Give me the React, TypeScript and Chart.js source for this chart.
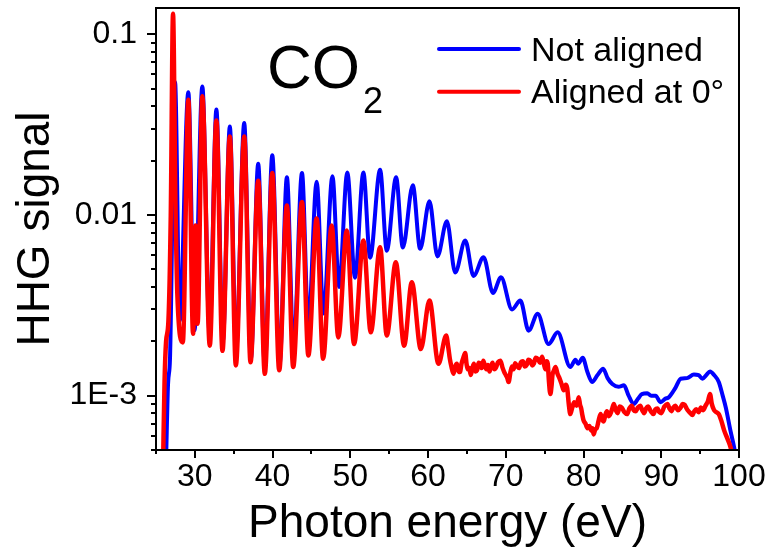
import React, { useEffect, useRef } from 'react';
import { Chart, registerables } from 'chart.js';

Chart.register(...registerables);

// ---------- data ----------
const blueEnergy = [
  26.3, 26.55, 26.8, 27.45, 28.05, 29.16, 29.95, 30.96, 31.9, 32.77,
  33.6, 34.5, 35.3, 36.35, 37.2, 38.15, 39.0, 39.96, 40.9, 41.84,
  42.7, 43.78, 44.6, 45.67, 46.55, 47.7, 48.55, 49.61, 50.6, 51.68,
  52.54, 53.83, 54.69, 55.89, 56.75, 58.04, 58.98, 60.18, 61.21, 62.42,
  63.49, 64.78, 65.85, 67.14, 68.35, 69.38, 70.8, 71.87, 72.94, 74.1,
  75.5, 76.67, 78.3, 78.96, 79.3, 79.9, 80.5, 81.1, 81.8, 82.53,
  83.1, 83.7, 84.5, 85.2, 85.8, 86.47, 87.0, 87.5, 88.2, 88.7,
  89.27, 89.9, 90.5, 90.98, 91.8, 92.5, 93.3, 94.2, 94.8, 95.3,
  95.8, 96.27, 96.8, 97.4, 97.9, 98.3, 98.9, 99.4, 99.6,
];
const blueSignal = [
  4.5e-4, 1.16e-3, 1.6e-3, 0.0545, 2.6e-3, 0.0479, 2.3e-3, 0.0515, 2.2e-3, 0.0384,
  2.0e-3, 0.0309, 1.75e-3, 0.0323, 1.6e-3, 0.0192, 1.45e-3, 0.0214, 1.5e-3, 0.0162,
  1.8e-3, 0.0171, 2.5e-3, 0.0153, 2.85e-3, 0.0164, 4.0e-3, 0.0172, 4.5e-3, 0.0172,
  5.8e-3, 0.0178, 6.35e-3, 0.0162, 6.6e-3, 0.0146, 6.5e-3, 0.0119, 5.9e-3, 9.25e-3,
  4.8e-3, 7.23e-3, 4.6e-3, 5.84e-3, 3.7e-3, 4.52e-3, 3.0e-3, 3.36e-3, 2.29e-3, 2.84e-3,
  1.93e-3, 2.24e-3, 1.44e-3, 1.58e-3, 1.5e-3, 1.62e-3, 1.35e-3, 1.19e-3, 1.3e-3, 1.41e-3,
  1.25e-3, 1.16e-3, 1.12e-3, 1.14e-3, 1.0e-3, 9.0e-4, 9.6e-4, 1.02e-3, 1.03e-3, 1.0e-3,
  1.0e-3, 9.2e-4, 9.6e-4, 9.8e-4, 1.1e-3, 1.24e-3, 1.25e-3, 1.31e-3, 1.3e-3, 1.24e-3,
  1.3e-3, 1.36e-3, 1.3e-3, 1.19e-3, 1.0e-3, 8.6e-4, 6.4e-4, 5.1e-4, 4.5e-4,
];

const redEnergy = [
  25.9, 26.1, 26.3, 26.6, 26.9, 27.19, 27.5, 27.75, 28.45, 29.16,
  29.77, 30.08, 30.35, 30.96, 31.92, 32.77, 33.55, 34.5, 35.27, 36.35,
  37.16, 38.15, 39.0, 39.96, 40.85, 41.84, 42.65, 43.78, 44.6, 45.67,
  46.5, 47.6, 48.45, 49.54, 50.48, 51.68, 52.63, 53.83, 54.69, 55.85,
  56.92, 57.91, 59.07, 60.18, 61.34, 62.33, 62.6, 62.8, 63.0, 63.27,
  63.5, 63.7, 63.9, 64.1, 64.3, 64.5, 64.78, 64.95, 65.1, 65.3,
  65.5, 65.7, 65.9, 66.1, 66.3, 66.5, 66.7, 66.9, 67.1, 67.3,
  67.5, 67.7, 67.9, 68.1, 68.3, 68.5, 68.7, 69.0, 69.3, 69.6,
  69.8, 70.0, 70.2, 70.36, 70.6, 70.8, 71.0, 71.2, 71.45, 71.7,
  71.95, 72.2, 72.45, 72.7, 72.9, 73.15, 73.4, 73.6, 73.85, 74.1,
  74.4, 74.67, 74.9, 75.1, 75.25, 75.4, 75.55, 75.73, 75.9, 76.0,
  76.2, 76.4, 76.65, 76.9, 77.2, 77.45, 77.7, 77.9, 78.1, 78.3,
  78.55, 78.8, 79.1, 79.38, 79.55, 79.7, 79.85, 80.0, 80.25, 80.5,
  80.75, 81.0, 81.15, 81.3, 81.5, 81.7, 81.95, 82.2, 82.4, 82.6,
  82.8, 83.0, 83.25, 83.5, 83.7, 83.9, 84.15, 84.4, 84.65, 84.9,
  85.25, 85.6, 85.9, 86.2, 86.45, 86.7, 87.0, 87.3, 87.55, 87.8,
  88.05, 88.3, 88.65, 89.0, 89.25, 89.5, 89.75, 90.0, 90.4, 90.8,
  91.05, 91.3, 91.55, 91.8, 92.15, 92.5, 92.75, 93.0, 93.25, 93.5,
  93.75, 94.0, 94.25, 94.5, 94.8, 95.1, 95.4, 95.7, 96.0, 96.27,
  96.5, 96.8, 97.1, 97.4, 97.75, 98.1, 98.5, 98.9, 99.2,
];
const redSignal = [
  4.0e-4, 1.2e-3, 2.0e-3, 2.6e-3, 0.01, 0.13, 0.012, 3.6e-3, 1.97e-3, 0.0435,
  2.2e-3, 8.75e-3, 2.5e-3, 0.0454, 1.89e-3, 0.0334, 1.77e-3, 0.0272, 1.47e-3, 0.0272,
  1.53e-3, 0.0155, 1.32e-3, 0.0171, 1.38e-3, 0.0113, 1.44e-3, 0.0118, 1.67e-3, 9.57e-3,
  1.6e-3, 8.75e-3, 2.1e-3, 8.2e-3, 1.93e-3, 7.23e-3, 2.24e-3, 6.63e-3, 2.15e-3, 5.48e-3,
  1.89e-3, 4.25e-3, 1.81e-3, 3.36e-3, 1.5e-3, 2.15e-3, 1.85e-3, 1.6e-3, 1.45e-3, 1.32e-3,
  1.45e-3, 1.5e-3, 1.38e-3, 1.35e-3, 1.5e-3, 1.6e-3, 1.72e-3, 1.5e-3, 1.4e-3, 1.42e-3,
  1.3e-3, 1.42e-3, 1.5e-3, 1.36e-3, 1.38e-3, 1.52e-3, 1.5e-3, 1.42e-3, 1.56e-3, 1.47e-3,
  1.4e-3, 1.48e-3, 1.36e-3, 1.45e-3, 1.52e-3, 1.4e-3, 1.42e-3, 1.53e-3, 1.56e-3, 1.42e-3,
  1.35e-3, 1.3e-3, 1.25e-3, 1.19e-3, 1.35e-3, 1.45e-3, 1.4e-3, 1.51e-3, 1.46e-3, 1.42e-3,
  1.53e-3, 1.55e-3, 1.45e-3, 1.48e-3, 1.58e-3, 1.56e-3, 1.47e-3, 1.5e-3, 1.62e-3, 1.6e-3,
  1.52e-3, 1.64e-3, 1.5e-3, 1.4e-3, 1.55e-3, 1.5e-3, 1.2e-3, 1.02e-3, 1.15e-3, 1.3e-3,
  1.38e-3, 1.44e-3, 1.32e-3, 1.25e-3, 1.15e-3, 1.07e-3, 1.15e-3, 1.1e-3, 9.0e-4, 7.9e-4,
  8.6e-4, 9.2e-4, 8.8e-4, 9.8e-4, 8.9e-4, 8.5e-4, 7.8e-4, 7.3e-4, 7.0e-4, 6.6e-4,
  6.8e-4, 6.4e-4, 6.6e-4, 6.1e-4, 6.5e-4, 6.6e-4, 7.3e-4, 7.9e-4, 7.4e-4, 7.2e-4,
  7.8e-4, 8.2e-4, 7.7e-4, 8.0e-4, 8.5e-4, 9.0e-4, 8.3e-4, 8.0e-4, 8.7e-4, 8.6e-4,
  8.1e-4, 7.9e-4, 8.5e-4, 8.8e-4, 8.3e-4, 8.2e-4, 8.6e-4, 8.8e-4, 8.3e-4, 8.0e-4,
  8.5e-4, 8.7e-4, 8.2e-4, 7.9e-4, 8.4e-4, 8.5e-4, 8.1e-4, 8.0e-4, 8.7e-4, 9.0e-4,
  8.5e-4, 8.2e-4, 8.6e-4, 8.8e-4, 8.3e-4, 8.6e-4, 9.0e-4, 8.9e-4, 8.5e-4, 8.2e-4,
  8.0e-4, 7.8e-4, 8.2e-4, 8.4e-4, 8.1e-4, 8.6e-4, 8.3e-4, 8.8e-4, 9.3e-4, 1.02e-3,
  9.0e-4, 8.3e-4, 8.1e-4, 7.9e-4, 7.2e-4, 6.4e-4, 5.8e-4, 5.2e-4, 4.5e-4,
];

const seriesLabels = ['Not aligned', 'Aligned at 0°'];
const seriesColors = ['#0000FF', '#FF0000'];
const xTickValues = [30, 40, 50, 60, 70, 80, 90, 100];
const yTickValues = [0.001, 0.01, 0.1];
const yTickLabels = ['1E-3', '0.01', '0.1'];
const xTitle = 'Photon energy (eV)';
const yTitle = 'HHG signal';
const moleculeMain = 'CO';
const moleculeSub = '2';

const FONT = "'Liberation Sans', Arial, Helvetica, sans-serif";

const decorPlugin = {
  id: 'decor',
  afterDraw(chart: any) {
    const { ctx, chartArea: a, scales } = chart;
    const xs = scales.x;
    const ys = scales.y;
    ctx.save();
    ctx.strokeStyle = '#000';
    ctx.lineWidth = 2;
    ctx.strokeRect(a.left, a.top, a.right - a.left, a.bottom - a.top);
    ctx.beginPath();
    for (let v = 25; v <= 100; v += 5) {
      const px = Math.round(xs.getPixelForValue(v));
      const len = v % 10 === 0 ? 8 : 4;
      ctx.moveTo(px, a.bottom);
      ctx.lineTo(px, a.bottom + len);
    }
    for (let e = -4; e <= -1; e++) {
      for (let k = 1; k <= 9; k++) {
        const v = k * Math.pow(10, e);
        if (v < ys.min || v > ys.max) continue;
        const py = Math.round(ys.getPixelForValue(v));
        const len = k === 1 ? 9 : 5;
        ctx.moveTo(a.left, py);
        ctx.lineTo(a.left - len, py);
      }
    }
    ctx.stroke();

    // legend
    ctx.lineCap = 'round';
    ctx.lineWidth = 4;
    const legendY = [49, 91.7];
    const legendBase = [60.7, 103.3];
    ctx.font = `34px ${FONT}`;
    ctx.fillStyle = '#000';
    ctx.textBaseline = 'alphabetic';
    ctx.textAlign = 'left';
    for (let i = 0; i < 2; i++) {
      ctx.strokeStyle = seriesColors[i];
      ctx.beginPath();
      ctx.moveTo(439, legendY[i]);
      ctx.lineTo(519, legendY[i]);
      ctx.stroke();
      ctx.fillText(seriesLabels[i], 531, legendBase[i]);
    }

    // molecule label
    ctx.font = `62px ${FONT}`;
    ctx.fillText(moleculeMain, 267, 88);
    const w = ctx.measureText(moleculeMain).width;
    ctx.font = `36px ${FONT}`;
    ctx.fillText(moleculeSub, 267 + w + 3, 113);
    ctx.restore();
  },
};

export default function App() {
  const ref = useRef<HTMLCanvasElement | null>(null);

  useEffect(() => {
    if (!ref.current) return;
    const blue = blueEnergy.map((x, i) => ({ x, y: blueSignal[i] }));
    const red = redEnergy.map((x, i) => ({ x, y: redSignal[i] }));
    const chart = new Chart(ref.current, {
      type: 'line',
      data: {
        datasets: [
          {
            label: seriesLabels[0],
            data: blue,
            borderColor: seriesColors[0],
            borderWidth: 4,
            pointRadius: 0,
            cubicInterpolationMode: 'monotone',
            fill: false,
            order: 2,
          },
          {
            label: seriesLabels[1],
            data: red,
            borderColor: seriesColors[1],
            borderWidth: 4.5,
            pointRadius: 0,
            cubicInterpolationMode: 'monotone',
            fill: false,
            order: 1,
          },
        ],
      },
      options: {
        responsive: false,
        animation: false,
        devicePixelRatio: 1,
        layout: { padding: { left: 0, right: 34, top: 8, bottom: 0 } },
        plugins: { legend: { display: false }, tooltip: { enabled: false } },
        scales: {
          x: {
            type: 'linear',
            min: 25,
            max: 100,
            grid: { display: false, drawTicks: false },
            border: { display: false },
            afterBuildTicks: (s: any) => {
              s.ticks = xTickValues.map((v) => ({ value: v }));
            },
            afterFit: (s: any) => {
              s.height = 99;
              s.paddingLeft = 0;
              s.paddingRight = 0;
            },
            ticks: {
              autoSkip: false,
              maxRotation: 0,
              padding: 8,
              color: '#000',
              font: { family: FONT, size: 32 },
            },
            title: {
              display: true,
              text: xTitle,
              color: '#000',
              font: { family: FONT, size: 46, lineHeight: 1 },
              padding: { top: 0, bottom: 2 },
            },
          },
          y: {
            type: 'logarithmic',
            min: 5e-4,
            max: 0.14,
            grid: { display: false, drawTicks: false },
            border: { display: false },
            afterBuildTicks: (s: any) => {
              s.ticks = yTickValues.map((v) => ({ value: v }));
            },
            afterFit: (s: any) => {
              s.width = 156;
              s.paddingTop = 0;
              s.paddingBottom = 0;
            },
            ticks: {
              autoSkip: false,
              padding: 19,
              color: '#000',
              font: { family: FONT, size: 32 },
              callback: (_v: any, i: number) => yTickLabels[i],
            },
            title: {
              display: true,
              text: yTitle,
              color: '#000',
              font: { family: FONT, size: 46, lineHeight: 1 },
              padding: { top: 13, bottom: 0 },
            },
          },
        },
      },
      plugins: [decorPlugin],
    } as any);
    return () => chart.destroy();
  }, []);

  return (
    <div style={{ position: 'fixed', left: 0, top: 0, width: 773, height: 549, background: '#fff' }}>
      <canvas ref={ref} width={773} height={549} style={{ display: 'block' }} />
    </div>
  );
}
